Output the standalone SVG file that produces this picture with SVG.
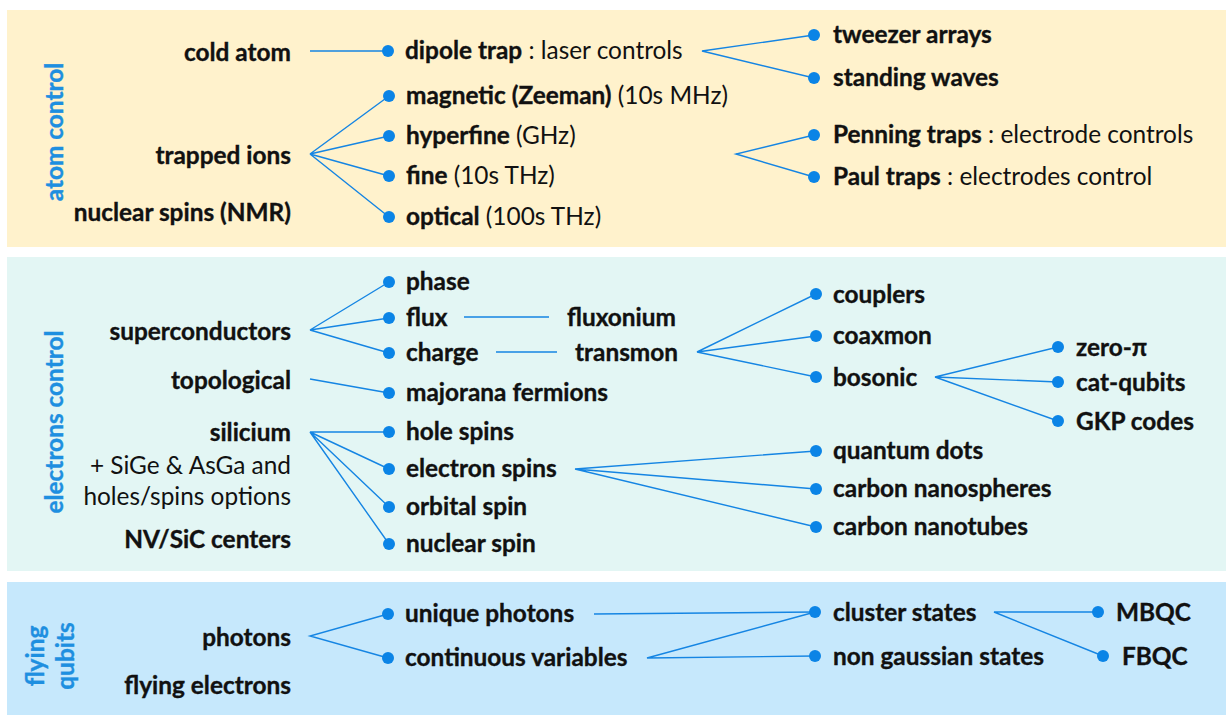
<svg xmlns="http://www.w3.org/2000/svg" width="1227" height="716" viewBox="0 0 1227 716">
<style>
text{font-family:Lato,"Open Sans",sans-serif;font-size:24.4px;font-weight:bold;fill:#111;stroke:#111;stroke-width:0.35}
.r{text-anchor:end}
.n{font-weight:normal;stroke-width:0}
.v{fill:#1E8FE0;stroke:#1E8FE0;text-anchor:middle}
.d{fill:#0B84E6}
.c line,.c path{stroke:#1585E3;stroke-width:1.4;fill:none}
.g{stroke:#7F7F7F;stroke-width:2.5}
</style>
<rect x="7" y="10" width="1219" height="237" fill="#FFF2CC"/>
<rect x="7" y="257" width="1219" height="314" fill="#E3F6F4"/>
<rect x="7" y="582" width="1219" height="133" fill="#C6E8FC"/>

<g class="c" id="connectors">
<line x1="310" y1="51" x2="388" y2="51"/>
<path d="M389 96L310 154L389 136M310 154L389 176M310 154L389 217"/>
<path d="M814 35L702 51L814 78"/>
<path d="M814 135L736 154L814 177"/>
<path d="M389 282L310 330L389 318M310 330L389 353"/>
<line x1="310" y1="379" x2="389" y2="393"/>
<path d="M389 432L310 432L389 469M310 432L389 507M310 432L389 544"/>
<line class="g" x1="464" y1="317" x2="549" y2="317"/>
<line class="g" x1="496" y1="352" x2="557" y2="352"/>
<path d="M816 294L697 352L816 336M697 352L816 377"/>
<path d="M1058 347L935 377L1058 382M935 377L1058 421"/>
<path d="M816 451L575 469L816 489M575 469L816 527"/>
<path d="M388 614L310 636L388 658"/>
<line x1="594" y1="614" x2="815" y2="612"/>
<path d="M815 612L647 658L815 656"/>
<path d="M1098 612L994 612L1103 656"/>
</g>

<g id="label-atom"><text class="v" transform="translate(63,132) rotate(-90)">atom control</text></g>
<g id="label-electrons"><text class="v" transform="translate(63,422) rotate(-90)">electrons control</text></g>
<g id="label-flying"><text class="v" transform="translate(44,656) rotate(-90)">flying</text><text class="v" transform="translate(74,656) rotate(-90)">qubits</text></g>

<g id="cold-atom"><text class="r" x="291" y="61">cold atom</text></g>
<g id="trapped-ions"><text class="r" x="291" y="164">trapped ions</text></g>
<g id="nmr"><text class="r" x="291" y="221">nuclear spins (NMR)</text></g>

<g id="dipole-trap"><circle class="d" cx="388" cy="51" r="6"/><text x="405" y="59">dipole trap<tspan class="n"> : laser controls</tspan></text></g>
<g id="magnetic"><circle class="d" cx="389" cy="96" r="6"/><text x="406" y="104">magnetic (Zeeman)<tspan class="n"> (10s MHz)</tspan></text></g>
<g id="hyperfine"><circle class="d" cx="389" cy="136" r="6"/><text x="406" y="144">hyperfine<tspan class="n"> (GHz)</tspan></text></g>
<g id="fine"><circle class="d" cx="389" cy="176" r="6"/><text x="406" y="184">fine<tspan class="n"> (10s THz)</tspan></text></g>
<g id="optical"><circle class="d" cx="389" cy="217" r="6"/><text x="406" y="225">optical<tspan class="n"> (100s THz)</tspan></text></g>

<g id="tweezer"><circle class="d" cx="814" cy="35" r="6"/><text x="833" y="43">tweezer arrays</text></g>
<g id="standing"><circle class="d" cx="814" cy="78" r="6"/><text x="833" y="86">standing waves</text></g>
<g id="penning"><circle class="d" cx="814" cy="135" r="6"/><text x="833" y="143">Penning traps<tspan class="n"> : electrode controls</tspan></text></g>
<g id="paul"><circle class="d" cx="814" cy="177" r="6"/><text x="833" y="185">Paul traps<tspan class="n"> : electrodes control</tspan></text></g>

<g id="superconductors"><text class="r" x="291" y="340">superconductors</text></g>
<g id="topological"><text class="r" x="291" y="389">topological</text></g>
<g id="silicium"><text class="r" x="291" y="441">silicium</text><text class="r n" x="291" y="474">+ SiGe &amp; AsGa and</text><text class="r n" x="291" y="505">holes/spins options</text></g>
<g id="nv"><text class="r" x="291" y="548">NV/SiC centers</text></g>

<g id="phase"><circle class="d" cx="389" cy="282" r="6"/><text x="406" y="290">phase</text></g>
<g id="flux"><circle class="d" cx="389" cy="318" r="6"/><text x="406" y="326">flux</text></g>
<g id="charge"><circle class="d" cx="389" cy="353" r="6"/><text x="406" y="361">charge</text></g>
<g id="majorana"><circle class="d" cx="389" cy="393" r="6"/><text x="406" y="401">majorana fermions</text></g>
<g id="hole-spins"><circle class="d" cx="389" cy="432" r="6"/><text x="406" y="440">hole spins</text></g>
<g id="electron-spins"><circle class="d" cx="389" cy="469" r="6"/><text x="406" y="477">electron spins</text></g>
<g id="orbital-spin"><circle class="d" cx="389" cy="507" r="6"/><text x="406" y="515">orbital spin</text></g>
<g id="nuclear-spin"><circle class="d" cx="389" cy="544" r="6"/><text x="406" y="552">nuclear spin</text></g>

<g id="fluxonium"><text x="567" y="326">fluxonium</text></g>
<g id="transmon"><text x="575" y="361">transmon</text></g>

<g id="couplers"><circle class="d" cx="816" cy="294" r="6"/><text x="833" y="303">couplers</text></g>
<g id="coaxmon"><circle class="d" cx="816" cy="336" r="6"/><text x="833" y="344">coaxmon</text></g>
<g id="bosonic"><circle class="d" cx="816" cy="377" r="6"/><text x="833" y="386">bosonic</text></g>
<g id="zero-pi"><circle class="d" cx="1058" cy="347" r="6"/><text x="1076" y="356">zero-π</text></g>
<g id="cat-qubits"><circle class="d" cx="1058" cy="382" r="6"/><text x="1076" y="391">cat-qubits</text></g>
<g id="gkp"><circle class="d" cx="1058" cy="421" r="6"/><text x="1076" y="430">GKP codes</text></g>

<g id="quantum-dots"><circle class="d" cx="816" cy="451" r="6"/><text x="833" y="459">quantum dots</text></g>
<g id="nanospheres"><circle class="d" cx="816" cy="489" r="6"/><text x="833" y="497">carbon nanospheres</text></g>
<g id="nanotubes"><circle class="d" cx="816" cy="527" r="6"/><text x="833" y="535">carbon nanotubes</text></g>

<g id="photons"><text class="r" x="291" y="646">photons</text></g>
<g id="flying-electrons"><text class="r" x="291" y="694">flying electrons</text></g>
<g id="unique-photons"><circle class="d" cx="388" cy="614" r="6"/><text x="405" y="622">unique photons</text></g>
<g id="cv"><circle class="d" cx="388" cy="658" r="6"/><text x="405" y="666">continuous variables</text></g>
<g id="cluster"><circle class="d" cx="815" cy="612" r="6"/><text x="833" y="621">cluster states</text></g>
<g id="non-gaussian"><circle class="d" cx="815" cy="656" r="6"/><text x="833" y="665">non gaussian states</text></g>
<g id="mbqc"><circle class="d" cx="1098" cy="612" r="6"/><text x="1116" y="621">MBQC</text></g>
<g id="fbqc"><circle class="d" cx="1103" cy="656" r="6"/><text x="1122" y="665">FBQC</text></g>
</svg>
